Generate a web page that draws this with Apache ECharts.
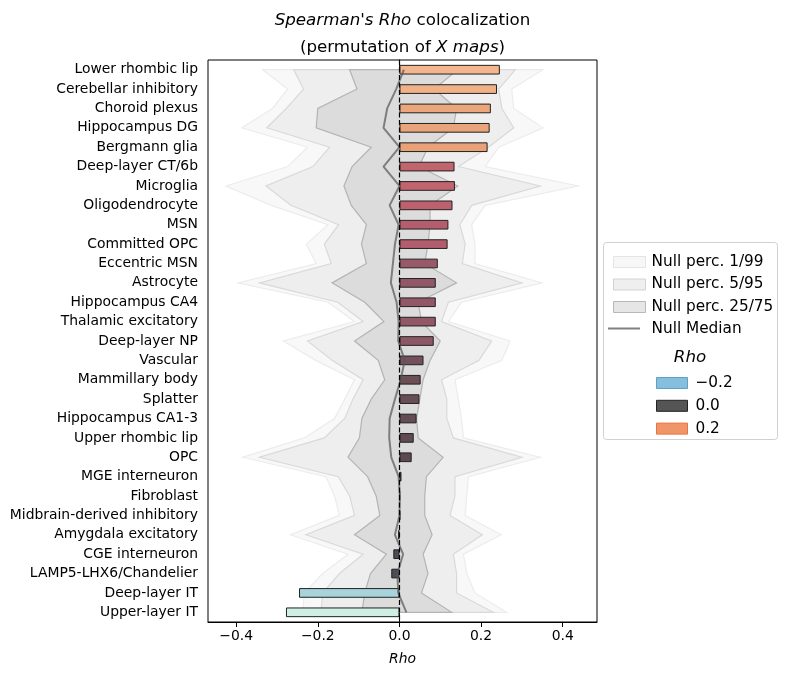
<!DOCTYPE html>
<html>
<head>
<meta charset="utf-8">
<title>Spearman's Rho colocalization</title>
<script src="https://cdn.jsdelivr.net/npm/echarts@6.0.0/dist/echarts.min.js"></script>
<style>
html, body { margin: 0; padding: 0; background: #fff; }
#chart { width: 788px; height: 676px; }
</style>
</head>
<body>
<div id="chart"></div>
<script>
// cell types, top to bottom
var cellTypes = ['Lower rhombic lip', 'Cerebellar inhibitory', 'Choroid plexus', 'Hippocampus DG',
  'Bergmann glia', 'Deep-layer CT/6b', 'Microglia', 'Oligodendrocyte', 'MSN', 'Committed OPC',
  'Eccentric MSN', 'Astrocyte', 'Hippocampus CA4', 'Thalamic excitatory', 'Deep-layer NP',
  'Vascular', 'Mammillary body', 'Splatter', 'Hippocampus CA1-3', 'Upper rhombic lip', 'OPC',
  'MGE interneuron', 'Fibroblast', 'Midbrain-derived inhibitory', 'Amygdala excitatory',
  'CGE interneuron', 'LAMP5-LHX6/Chandelier', 'Deep-layer IT', 'Upper-layer IT'];

// observed rho
var rho = [0.246, 0.239, 0.224, 0.221, 0.216, 0.135, 0.136, 0.130, 0.120, 0.118,
  0.094, 0.089, 0.089, 0.089, 0.084, 0.059, 0.052, 0.049, 0.042, 0.035, 0.030,
  0.005, 0.001, 0.002, -0.003, -0.015, -0.020, -0.246, -0.278];

// null distribution (permuted maps)
var nullMedian = [0.011, -0.008, -0.030, -0.039, 0.000, -0.039, 0.000, -0.024, -0.002, -0.011,
  -0.016, -0.021, -0.007, -0.002, -0.003, 0.013, 0.003, -0.011, -0.024, -0.025, -0.020,
  -0.002, 0.001, 0.000, -0.011, 0.009, -0.005, -0.003, 0.017];
var nullP1 = [-0.335, -0.274, -0.311, -0.386, -0.225, -0.274, -0.425, -0.314, -0.175, -0.228,
  -0.204, -0.395, -0.175, -0.110, -0.284, -0.205, -0.110, -0.134, -0.159, -0.233, -0.384,
  -0.180, -0.159, -0.147, -0.267, -0.126, -0.188, -0.233, -0.237];
var nullP99 = [0.352, 0.275, 0.280, 0.352, 0.243, 0.210, 0.438, 0.210, 0.177, 0.185,
  0.185, 0.349, 0.152, 0.120, 0.271, 0.251, 0.136, 0.144, 0.152, 0.157, 0.345,
  0.169, 0.165, 0.161, 0.249, 0.157, 0.165, 0.185, 0.263];
var nullP5 = [-0.259, -0.235, -0.277, -0.325, -0.171, -0.212, -0.327, -0.266, -0.149, -0.184,
  -0.167, -0.343, -0.151, -0.089, -0.225, -0.165, -0.089, -0.114, -0.134, -0.184, -0.343,
  -0.150, -0.122, -0.110, -0.229, -0.089, -0.147, -0.188, -0.192];
var nullP95 = [0.284, 0.243, 0.251, 0.280, 0.218, 0.145, 0.345, 0.177, 0.148, 0.161,
  0.154, 0.300, 0.120, 0.103, 0.226, 0.195, 0.103, 0.116, 0.116, 0.132, 0.300,
  0.136, 0.136, 0.124, 0.203, 0.132, 0.140, 0.140, 0.230];
var nullP25 = [-0.122, -0.104, -0.200, -0.204, -0.069, -0.116, -0.136, -0.118, -0.081, -0.093,
  -0.081, -0.165, -0.085, -0.038, -0.110, -0.052, -0.036, -0.069, -0.092, -0.098, -0.126,
  -0.078, -0.057, -0.048, -0.110, -0.032, -0.071, -0.085, -0.092];
var nullP75 = [0.143, 0.085, 0.140, 0.132, 0.070, 0.048, 0.143, 0.075, 0.075, 0.070,
  0.062, 0.140, 0.046, 0.054, 0.100, 0.075, 0.058, 0.050, 0.042, 0.046, 0.107,
  0.066, 0.062, 0.062, 0.080, 0.058, 0.070, 0.054, 0.128];

var xTicks = [-0.4, -0.2, 0, 0.2, 0.4];
var rhoLegendLabels = ['\u22120.2', '0.0', '0.2'];

var FONT = 'DejaVu Sans';

function fmt(v) {
  return (v < 0 ? '\u2212' : '') + Math.abs(v).toFixed(1);
}

// one filled polygon per percentile band, lo down the left side, hi back up the right
function band(lo, hi, fill, stroke) {
  return function (params, api) {
    var pts = [];
    for (var i = 0; i < lo.length; i++) pts.push(api.coord([lo[i], i]));
    for (var j = hi.length - 1; j >= 0; j--) pts.push(api.coord([hi[j], j]));
    return {
      type: 'polygon',
      shape: { points: pts },
      style: { fill: fill, stroke: stroke, lineWidth: 1.2 }
    };
  };
}

var chart = echarts.init(document.getElementById('chart'));

var option = {
  animation: false,
  backgroundColor: '#fff',
  textStyle: { fontFamily: FONT },
  title: {
    left: 402.5,
    textAlign: 'center',
    top: 7,
    padding: 0,
    text: "{it|Spearman's Rho} colocalization\n(permutation of {it|X maps})",
    textStyle: {
      fontFamily: FONT, fontSize: 16.7, fontWeight: 'normal', color: '#000', lineHeight: 27,
      rich: { it: { fontFamily: FONT, fontStyle: 'italic', fontSize: 16.7, lineHeight: 27, color: '#000' } }
    }
  },
  grid: {
    left: 208, right: 191, top: 60, bottom: 54,
    show: true, borderColor: '#000', borderWidth: 1, backgroundColor: 'transparent'
  },
  xAxis: {
    type: 'value',
    min: -0.469, max: 0.484,
    name: 'Rho',
    nameLocation: 'middle',
    nameGap: 30,
    nameTextStyle: { fontFamily: FONT, fontStyle: 'italic', fontSize: 13.9, color: '#000' },
    axisLine: { show: true, lineStyle: { color: '#000', width: 1 } },
    axisTick: { show: true, length: 5, customValues: xTicks, lineStyle: { color: '#000' } },
    axisLabel: { customValues: xTicks, formatter: fmt, fontSize: 13.9, color: '#000', margin: 7 },
    splitLine: { show: false }
  },
  yAxis: {
    type: 'category',
    inverse: true,
    data: cellTypes,
    axisLine: { show: true, lineStyle: { color: '#000', width: 1 } },
    axisTick: { show: true, length: 5, alignWithLabel: true, lineStyle: { color: '#000' } },
    axisLabel: { fontSize: 13.9, color: '#000', margin: 10, interval: 0 },
    splitLine: { show: false }
  },
  visualMap: {
    type: 'continuous',
    show: false,
    seriesIndex: 3,
    dimension: 0,
    min: -0.3, max: 0.3,
    inRange: {
      color: ['#e0f5ee', '#cdeee3', '#abd7da', '#8fc5d8', '#78b1d4', '#6a9ccd', '#6186c2',
        '#5a70ad', '#555e92', '#514f76', '#4e4b62', '#4d4b55', '#4f4c50', '#5b484d', '#6a4d56',
        '#835563', '#a05a6b', '#b95e6e', '#ce6c6f', '#db7f6f', '#e59570', '#eba77b', '#f4b992',
        '#f7c9a6', '#f9d7bb']
    }
  },
  legend: [{
    orient: 'vertical',
    left: 608, top: 249,
    itemWidth: 32, itemHeight: 11, itemGap: 6.5,
    selectedMode: false,
    textStyle: { fontFamily: FONT, fontSize: 15.3, color: '#000', lineHeight: 16, padding: [0, 0, 0, 1] },
    data: [
      { name: 'Null perc. 1/99', icon: 'rect', itemStyle: { color: '#f7f7f7', borderColor: '#e4e4e4', borderWidth: 1, opacity: 1 } },
      { name: 'Null perc. 5/95', icon: 'rect', itemStyle: { color: '#efefef', borderColor: '#d2d2d2', borderWidth: 1, opacity: 1 } },
      { name: 'Null perc. 25/75', icon: 'rect', itemStyle: { color: '#e6e6e6', borderColor: '#b8b8b8', borderWidth: 1, opacity: 1 } },
      { name: 'Null Median', icon: 'rect', itemStyle: { opacity: 0 } }
    ]
  }, {
    orient: 'vertical',
    left: 651, top: 370,
    itemWidth: 31, itemHeight: 11, itemGap: 6.8,
    selectedMode: false,
    textStyle: { fontFamily: FONT, fontSize: 15.3, color: '#000', lineHeight: 16, padding: [0, 0, 0, 3] },
    data: [
      { name: rhoLegendLabels[0], icon: 'rect', itemStyle: { color: '#86bedd', borderColor: '#5e9fcc', borderWidth: 1, opacity: 1 } },
      { name: rhoLegendLabels[1], icon: 'rect', itemStyle: { color: '#555555', borderColor: '#222', borderWidth: 1, opacity: 1 } },
      { name: rhoLegendLabels[2], icon: 'rect', itemStyle: { color: '#f0956a', borderColor: '#e8733f', borderWidth: 1, opacity: 1 } }
    ]
  }],
  graphic: [{
    type: 'rect',
    z: -1,
    shape: { x: 603.5, y: 242.5, width: 174, height: 197, r: 3 },
    style: { fill: '#fff', stroke: '#d0d0d0', lineWidth: 1 }
  }, {
    // legend key for the median line
    type: 'line',
    z: 10,
    shape: { x1: 608, y1: 328.5, x2: 640, y2: 328.5 },
    style: { stroke: '#808080', lineWidth: 2 }
  }, {
    type: 'text',
    z: 10,
    x: 690, y: 358,
    style: {
      text: 'Rho', fontFamily: FONT, fontStyle: 'italic', fontSize: 16.7, fill: '#000',
      align: 'center', verticalAlign: 'middle'
    }
  }],
  series: [{
    name: 'Null perc. 1/99', type: 'custom', z: 1, silent: true,
    data: [[0, 0]],
    renderItem: band(nullP1, nullP99, '#f8f8f8', '#ececec')
  }, {
    name: 'Null perc. 5/95', type: 'custom', z: 1, silent: true,
    data: [[0, 0]],
    renderItem: band(nullP5, nullP95, '#eeeeee', '#d9d9d9')
  }, {
    name: 'Null perc. 25/75', type: 'custom', z: 1, silent: true,
    data: [[0, 0]],
    renderItem: band(nullP25, nullP75, '#dcdcdc', '#b4b4b4')
  }, {
    name: 'Rho', type: 'bar', z: 2,
    barWidth: '50%',
    itemStyle: { borderColor: '#222', borderWidth: 1 },
    data: rho.map(function (v, i) { return [v, i]; })
  }, {
    name: 'Null Median', type: 'line', z: 3,
    symbol: 'none', silent: true,
    lineStyle: { color: '#555', width: 2, opacity: 0.7 },
    itemStyle: { color: '#808080' },
    data: nullMedian.map(function (v, i) { return [v, i]; }),
    markLine: {
      silent: true, symbol: 'none', label: { show: false },
      lineStyle: { color: '#000', width: 1.2, type: [5, 2.5] },
      data: [{ xAxis: 0 }]
    }
  }, {
    name: rhoLegendLabels[0], type: 'scatter', data: []
  }, {
    name: rhoLegendLabels[1], type: 'scatter', data: []
  }, {
    name: rhoLegendLabels[2], type: 'scatter', data: []
  }]
};

chart.setOption(option);
</script>
</body>
</html>
